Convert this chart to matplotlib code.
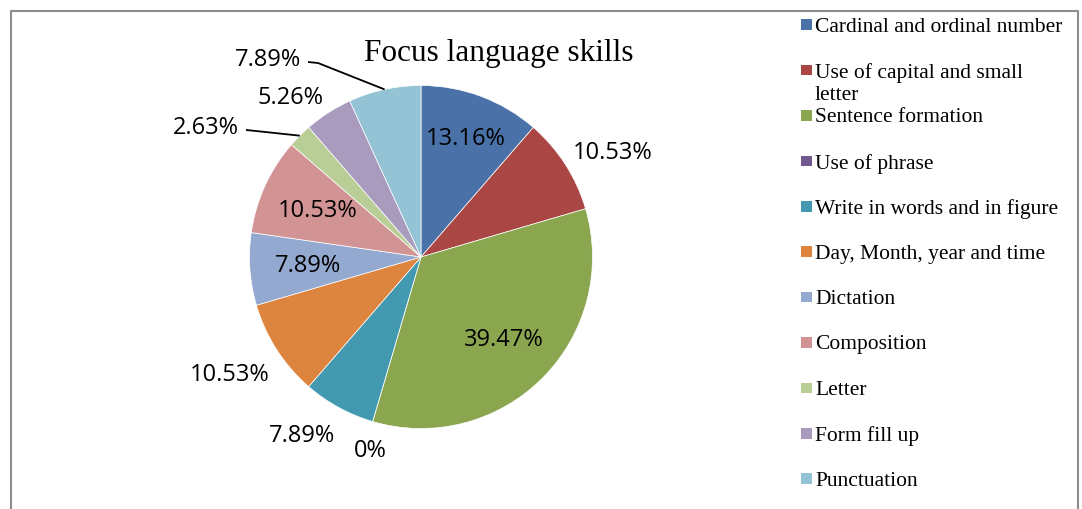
import numpy as np
import matplotlib

matplotlib.use("Agg")
import matplotlib.pyplot as plt
from matplotlib.patches import Rectangle

skills = [
    "Cardinal and ordinal number",
    "Use of capital and small\nletter",
    "Sentence formation",
    "Use of phrase",
    "Write in words and in figure",
    "Day, Month, year and time",
    "Dictation",
    "Composition",
    "Letter",
    "Form fill up",
    "Punctuation",
]
percent = [13.16, 10.53, 39.47, 0.0, 7.89, 10.53, 7.89, 10.53, 2.63, 5.26, 7.89]
percent_labels = ["13.16%", "10.53%", "39.47%", "0%", "7.89%", "10.53%",
                  "7.89%", "10.53%", "2.63%", "5.26%", "7.89%"]
colors = ["#4A72A8", "#AA4644", "#8AA64F", "#71588F", "#4299B0", "#DD843E",
          "#94A9D0", "#D29394", "#B9CD97", "#A99BBD", "#93C3D5"]

# how each data label is placed: inside, outside, or moved out with a leader line
placement = ["in", "out", "in", "out", "out", "out", "in", "in", "lead", "out", "lead"]
leader_text_pos = {8: (206, 128), 10: (268, 60)}

W, H = 1082, 510
fig = plt.figure(figsize=(W / 100, H / 100), dpi=100)
ax = fig.add_axes([0, 0, 1, 1])

cx, cy, R = 421, H - 258, 171.5
wedges, _ = ax.pie(percent, colors=colors, startangle=90, counterclock=False,
                   center=(cx, cy), radius=R, frame=True,
                   wedgeprops=dict(edgecolor="white", linewidth=0.5))
ax.set_xlim(0, W)
ax.set_ylim(0, H)
ax.set_aspect("auto")
ax.axis("off")

pct_font = dict(family="Open Sans", fontsize=17, color="black")
for i, w in enumerate(wedges):
    mid = np.deg2rad((w.theta1 + w.theta2) / 2)
    dx, dy = np.cos(mid), np.sin(mid)
    mode = placement[i]
    if mode == "in":
        r = {0: 0.74, 2: 0.68}.get(i, 0.66) * R
        ax.text(cx + r * dx, cy + r * dy, percent_labels[i], ha="center", va="center", **pct_font)
    elif mode == "out":
        r = 1.05 * R
        ha = "center" if abs(dx) < 0.3 else ("left" if dx > 0 else "right")
        off = 8 if dy > 0 else -20
        ax.text(cx + r * dx, cy + r * dy + off, percent_labels[i], ha=ha, va="center", **pct_font)
    else:
        tx, ty = leader_text_pos[i]
        ty = H - ty
        ax.text(tx, ty, percent_labels[i], ha="center", va="center", **pct_font)
        ex, ey = cx + R * dx, cy + R * dy
        x0 = tx + 40
        ax.plot([x0, x0 + 10, ex], [ty - 3, ty - 4, ey], color="black", lw=1.3,
                solid_capstyle="butt")

ax.text(499, H - 53, "Focus language skills", ha="center", va="center",
        family="Liberation Serif", fontsize=22.5)

# legend on the right
for i, (name, c) in enumerate(zip(skills, colors)):
    yc = H - (25.7 + i * 45.4)
    ax.add_patch(Rectangle((800.5, yc - 5.2), 11, 10.5, facecolor=c, edgecolor="none"))
    ax.text(815, yc + 8, name, ha="left", va="top", family="Liberation Serif",
            fontsize=15.5, linespacing=1.2)

# outer frame (bottom edge falls outside the picture)
frame_kw = dict(color="#8C8C8C", lw=1.5, solid_capstyle="butt")
ax.plot([10.5, 10.5, 1078, 1078], [0, H - 12, H - 12, 0], **frame_kw)

fig.savefig("out.png", dpi=100)
